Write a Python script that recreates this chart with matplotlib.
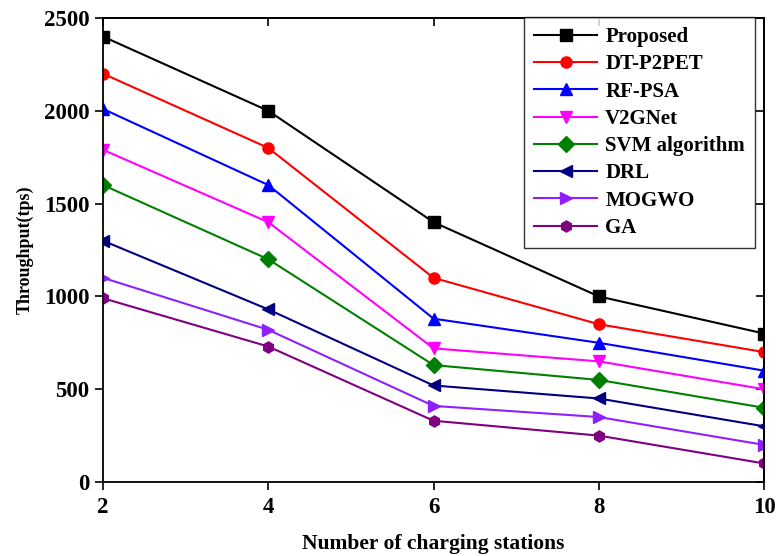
import matplotlib.pyplot as plt

# Data
stations = [2, 4, 6, 8, 10]
proposed = [2400, 2000, 1400, 1000, 800]
dt_p2pet = [2200, 1800, 1100, 850, 700]
rf_psa = [2010, 1600, 880, 750, 600]
v2gnet = [1790, 1400, 720, 650, 500]
svm = [1600, 1200, 630, 550, 400]
drl = [1300, 930, 520, 450, 300]
mogwo = [1100, 820, 410, 350, 200]
ga = [990, 730, 330, 250, 100]

names = ['Proposed', 'DT-P2PET', 'RF-PSA', 'V2GNet', 'SVM algorithm', 'DRL', 'MOGWO', 'GA']
series = [proposed, dt_p2pet, rf_psa, v2gnet, svm, drl, mogwo, ga]
colors = ['black', 'red', 'blue', 'magenta', 'green', 'navy', '#8f1fff', 'purple']
markers = ['s', 'o', '^', 'v', 'D', '<', '>', 'h']

plt.rcParams['font.family'] = ['Liberation Serif', 'DejaVu Serif']
plt.rcParams['font.weight'] = 'bold'

fig = plt.figure(figsize=(7.77, 5.56), dpi=100)
ax = fig.add_axes([0.1326, 0.1331, 0.8507, 0.8345])

for name, vals, c, m in zip(names, series, colors, markers):
    ax.plot(stations, vals, color=c, marker=m, markersize=8, linewidth=1.5, label=name)

ax.set_xlim(2, 10)
ax.set_ylim(0, 2500)
ax.set_xticks([2, 4, 6, 8, 10])
ax.set_yticks([0, 500, 1000, 1500, 2000, 2500])

# outward ticks on left/bottom, inward on top/right
ax.tick_params(axis='both', which='major', direction='out', length=6, width=1.2,
               labelsize=16.5, pad=4)
ax.tick_params(axis='x', pad=5)
ax2 = ax.secondary_xaxis('top')
ax2.set_xticks([2, 4, 6, 8, 10])
ax2.tick_params(direction='in', length=6, width=1.2, labeltop=False)
ax3 = ax.secondary_yaxis('right')
ax3.set_yticks([0, 500, 1000, 1500, 2000, 2500])
ax3.tick_params(direction='in', length=6, width=1.2, labelright=False)

for s in ax.spines.values():
    s.set_linewidth(1.3)
ax2.spines['top'].set_linewidth(1.3)
ax3.spines['right'].set_linewidth(1.3)

ax.set_xlabel('Number of charging stations', fontsize=15.5, fontweight='bold', labelpad=11)
ax.set_ylabel('Throughput(tps)', fontsize=13, fontweight='bold', labelpad=7)

leg = ax.legend(loc='upper right', bbox_to_anchor=(0.987, 1.003), fontsize=15,
                frameon=True, fancybox=False, edgecolor='black', handlelength=3.0,
                labelspacing=0.35, borderpad=0.5, handletextpad=0.4, borderaxespad=0)
leg.get_frame().set_linewidth(1.0)

plt.savefig('out.png', dpi=100)
